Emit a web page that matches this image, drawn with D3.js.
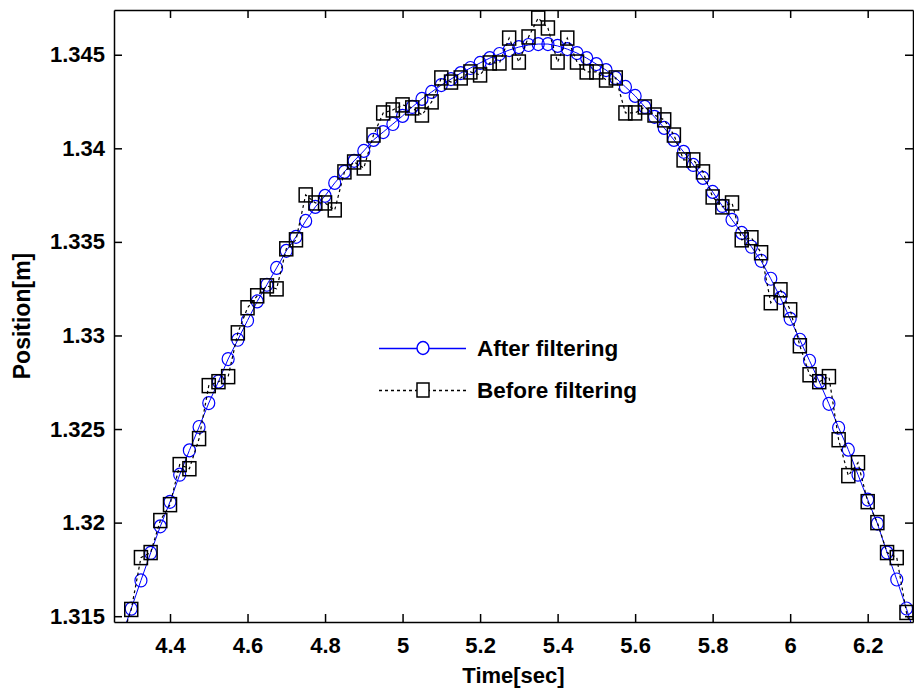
<!DOCTYPE html>
<html>
<head>
<meta charset="utf-8">
<script src="https://cdn.jsdelivr.net/npm/d3@7"></script>
<style>
  body { margin: 0; background: #fff; }
  text { font-family: "Liberation Sans", Arial, sans-serif; font-weight: bold; }
</style>
</head>
<body>
<svg id="chart" width="914" height="692"></svg>
<script>
// sample times (0.025 s step), first and last fall just outside the axes
var timeSec = d3.range(83).map(function (i) { return +(4.275 + i * 0.025).toFixed(3); });

var afterFilter = [
    1.31392, 1.31540, 1.31691, 1.31838, 1.31980, 1.32111, 1.32256, 1.32386, 1.32511, 1.32639,
    1.32754, 1.32874, 1.32977, 1.33080, 1.33182, 1.33271, 1.33361, 1.33452, 1.33527, 1.33612,
    1.33687, 1.33746, 1.33815, 1.33874, 1.33933, 1.33986, 1.34045, 1.34087, 1.34130, 1.34173,
    1.34221, 1.34264, 1.34301, 1.34338, 1.34370, 1.34402, 1.34429, 1.34456, 1.34482, 1.34504,
    1.34525, 1.34541, 1.34552, 1.34557, 1.34557, 1.34547, 1.34530, 1.34509, 1.34482, 1.34450,
    1.34418, 1.34376, 1.34328, 1.34280, 1.34221, 1.34168, 1.34109, 1.34045, 1.33981, 1.33911,
    1.33842, 1.33767, 1.33692, 1.33618, 1.33548, 1.33474, 1.33399, 1.33303, 1.33201, 1.33089,
    1.32977, 1.32865, 1.32753, 1.32635, 1.32507, 1.32390, 1.32256, 1.32123, 1.31995, 1.31840,
    1.31696, 1.31541, 1.31376
];

var beforeFilter = [
    1.31376, 1.31536, 1.31813, 1.31840, 1.32011, 1.32096, 1.32310, 1.32288, 1.32449, 1.32732,
    1.32753, 1.32780, 1.33014, 1.33148, 1.33212, 1.33265, 1.33249, 1.33463, 1.33511, 1.33751,
    1.33708, 1.33708, 1.33671, 1.33874, 1.33927, 1.33895, 1.34071, 1.34189, 1.34205, 1.34232,
    1.34216, 1.34178, 1.34248, 1.34376, 1.34354, 1.34376, 1.34408, 1.34392, 1.34456, 1.34456,
    1.34589, 1.34461, 1.34595, 1.34696, 1.34643, 1.34461, 1.34589, 1.34461, 1.34408, 1.34408,
    1.34365, 1.34376, 1.34189, 1.34189, 1.34221, 1.34178, 1.34152, 1.34071, 1.33938, 1.33938,
    1.33874, 1.33740, 1.33687, 1.33708, 1.33511, 1.33522, 1.33442, 1.33175, 1.33244, 1.33137,
    1.32945, 1.32790, 1.32753, 1.32780, 1.32443, 1.32251, 1.32320, 1.32112, 1.32000, 1.31840,
    1.31813, 1.31520, 1.31350
];

var xTicks = [4.4, 4.6, 4.8, 5, 5.2, 5.4, 5.6, 5.8, 6, 6.2];
var yTicks = [1.315, 1.32, 1.325, 1.33, 1.335, 1.34, 1.345];

// plot box (window.top is read-only, so no "top" here)
var plotL = 114, plotR = 913, plotT = 10, plotB = 622;

var svg = d3.select("#chart");

var x = d3.scaleLinear().domain([4.2555, 6.3169]).range([plotL, plotR]);
var y = d3.scaleLinear().domain([1.31469, 1.34739]).range([plotB, plotT]);

svg.append("defs").append("clipPath").attr("id", "plotArea")
    .append("rect")
    .attr("x", plotL).attr("y", plotT)
    .attr("width", plotR - plotL).attr("height", plotB - plotT);

var plot = svg.append("g").attr("clip-path", "url(#plotArea)");

var seriesLine = d3.line()
    .x(function (d, i) { return x(timeSec[i]); })
    .y(function (d) { return y(d); });

// after filtering: blue solid with circles
plot.append("path")
    .datum(afterFilter)
    .attr("d", seriesLine)
    .style("fill", "none")
    .style("stroke", "#0000ff")
    .style("stroke-width", 1);

plot.selectAll(".circ")
    .data(afterFilter)
    .enter().append("ellipse")
    .attr("class", "circ")
    .attr("cx", function (d, i) { return x(timeSec[i]); })
    .attr("cy", function (d) { return y(d); })
    .attr("rx", 6)
    .attr("ry", 6.5)
    .style("fill", "none")
    .style("stroke", "#0000ff")
    .style("stroke-width", 1.2);

// before filtering: black dashed with squares
plot.append("path")
    .datum(beforeFilter)
    .attr("d", seriesLine)
    .style("fill", "none")
    .style("stroke", "#000")
    .style("stroke-width", 1.2)
    .style("stroke-dasharray", "3,3");

plot.selectAll(".sq")
    .data(beforeFilter)
    .enter().append("rect")
    .attr("class", "sq")
    .attr("x", function (d, i) { return x(timeSec[i]) - 6.5; })
    .attr("y", function (d) { return y(d) - 7; })
    .attr("width", 13)
    .attr("height", 14)
    .style("fill", "none")
    .style("stroke", "#000")
    .style("stroke-width", 1.5);

// axes, ticks inward on all four sides
var axisStyle = function (g) {
    g.selectAll("path, line").style("stroke", "#000").style("stroke-width", 1.5);
    g.selectAll("text").style("font-size", "22px").style("fill", "#000");
};

svg.append("g")
    .attr("transform", "translate(0," + plotB + ")")
    .call(d3.axisBottom(x).tickValues(xTicks).tickSize(-8).tickSizeOuter(0).tickPadding(15)
        .tickFormat(function (d) { return String(d); }))
    .call(axisStyle);

svg.append("g")
    .attr("transform", "translate(0," + plotT + ")")
    .call(d3.axisTop(x).tickValues(xTicks).tickSize(-8).tickSizeOuter(0).tickFormat(""))
    .call(axisStyle);

svg.append("g")
    .attr("transform", "translate(" + plotL + ",0)")
    .call(d3.axisLeft(y).tickValues(yTicks).tickSize(-8).tickSizeOuter(0).tickPadding(9)
        .tickFormat(function (d) { return String(d); }))
    .call(axisStyle);

svg.append("g")
    .attr("transform", "translate(" + plotR + ",0)")
    .call(d3.axisRight(y).tickValues(yTicks).tickSize(-8).tickSizeOuter(0).tickFormat(""))
    .call(axisStyle);

// axis titles
svg.append("text")
    .attr("x", (plotL + plotR) / 2)
    .attr("y", 683)
    .style("text-anchor", "middle")
    .style("font-size", "22px")
    .text("Time[sec]");

svg.append("text")
    .attr("transform", "translate(30," + (plotT + plotB) / 2 + ") rotate(-90)")
    .style("text-anchor", "middle")
    .style("font-size", "23px")
    .text("Position[m]");

// legend, no box
var legend = svg.append("g");
var legendRows = [
    { label: "After filtering", color: "#0000ff", dash: null, marker: "circle", cy: 348 },
    { label: "Before filtering", color: "#000", dash: "3,3", marker: "square", cy: 390 }
];

legendRows.forEach(function (r) {
    legend.append("line")
        .attr("x1", 379).attr("x2", 466)
        .attr("y1", r.cy + 0.5).attr("y2", r.cy + 0.5)
        .style("stroke", r.color)
        .style("stroke-width", r.dash ? 1.3 : 1.5)
        .style("stroke-dasharray", r.dash);
    if (r.marker === "circle") {
        legend.append("ellipse")
            .attr("cx", 423).attr("cy", r.cy).attr("rx", 6).attr("ry", 6.5)
            .style("fill", "#fff").style("stroke", r.color).style("stroke-width", 1.4);
    } else {
        legend.append("rect")
            .attr("x", 417).attr("y", r.cy - 7).attr("width", 12).attr("height", 14)
            .style("fill", "#fff").style("stroke", r.color).style("stroke-width", 1.5);
    }
    legend.append("text")
        .attr("x", 477).attr("y", r.cy + 8)
        .style("font-size", "22.5px")
        .text(r.label);
});
</script>
</body>
</html>
